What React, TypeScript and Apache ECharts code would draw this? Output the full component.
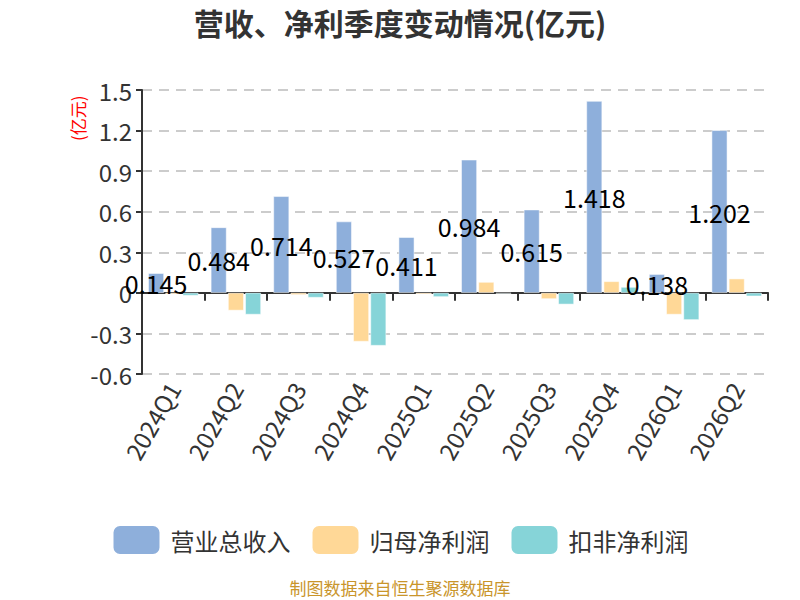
import { useEffect, useRef } from 'react';
import * as echarts from 'echarts';

const quarters = ['2024Q1', '2024Q2', '2024Q3', '2024Q4', '2025Q1', '2025Q2', '2025Q3', '2025Q4', '2026Q1', '2026Q2'];
const revenue = [0.145, 0.484, 0.714, 0.527, 0.411, 0.984, 0.615, 1.418, 0.138, 1.202];
const netProfit = [-0.01, -0.13, -0.015, -0.36, -0.01, 0.08, -0.045, 0.085, -0.16, 0.105];
const deductedProfit = [-0.02, -0.16, -0.035, -0.39, -0.03, -0.005, -0.085, 0.043, -0.2, -0.025];

const FONT = '"Noto Sans CJK SC", "Noto Sans", sans-serif';

export default function App() {
  const ref = useRef<HTMLDivElement>(null);

  useEffect(() => {
    if (!ref.current) return;
    document.body.style.margin = '0';
    const chart = echarts.init(ref.current, undefined, { renderer: 'svg' });

    chart.setOption({
      animation: false,
      textStyle: { fontFamily: FONT },
      title: {
        text: '营收、净利季度变动情况(亿元)',
        left: 'center',
        top: 2,
        textStyle: { fontSize: 30, fontWeight: 'bold', color: '#333', fontFamily: FONT },
      },
      graphic: [
        {
          type: 'text',
          x: 69,
          y: 141,
          rotation: Math.PI / 2,
          style: { text: '(亿元)', fill: '#f00', fontSize: 17, fontFamily: FONT },
        },
        {
          type: 'text',
          left: 'center',
          top: 579,
          style: { text: '制图数据来自恒生聚源数据库', fill: '#C9952B', fontSize: 17, fontFamily: FONT },
        },
      ],
      legend: {
        top: 519,
        left: 'center',
        itemWidth: 48,
        itemHeight: 30,
        itemGap: 20,
        textStyle: { fontSize: 24, color: '#333', padding: [0, 0, 0, 5] },
        data: ['营业总收入', '归母净利润', '扣非净利润'],
      },
      grid: { left: 142, right: 32, top: 90, bottom: 226 },
      xAxis: [
        {
          type: 'category',
          data: quarters,
          axisLine: { onZero: true, lineStyle: { color: '#333', width: 2 } },
          axisTick: { show: true, length: 8, lineStyle: { color: '#333', width: 2 } },
          axisLabel: { show: false },
        },
        {
          type: 'category',
          data: quarters,
          position: 'bottom',
          axisLine: { show: false, onZero: false },
          axisTick: { show: false },
          axisLabel: { interval: 0, rotate: 60, fontSize: 24, color: '#333', margin: 10 },
        },
      ],
      yAxis: {
        type: 'value',
        min: -0.6,
        max: 1.5,
        interval: 0.3,
        axisLine: { show: true, lineStyle: { color: '#333', width: 2 } },
        axisTick: { show: true, length: 6, lineStyle: { color: '#333', width: 2 } },
        axisLabel: {
          fontSize: 24,
          color: '#333',
          margin: 10,
          formatter: (v: number) => String(Number(v.toFixed(1))),
        },
        splitLine: { lineStyle: { color: '#ccc', type: [10, 7], width: 2 } },
      },
      series: [
        {
          name: '营业总收入',
          type: 'bar',
          data: revenue,
          barGap: '10%',
          barCategoryGap: '20%',
          itemStyle: { color: '#8EAFDB', borderColor: '#fff', borderWidth: 0.5 },
          label: {
            show: true,
            position: 'inside',
            color: '#000',
            fontSize: 25,
            formatter: (p: any) => String(p.value),
          },
        },
        {
          name: '归母净利润',
          type: 'bar',
          data: netProfit,
          itemStyle: { color: '#FFD897', borderColor: '#fff', borderWidth: 0.5 },
        },
        {
          name: '扣非净利润',
          type: 'bar',
          data: deductedProfit,
          itemStyle: { color: '#86D4D8', borderColor: '#fff', borderWidth: 0.5 },
        },
      ],
    });

    return () => chart.dispose();
  }, []);

  return <div ref={ref} style={{ width: 800, height: 600 }} />;
}
